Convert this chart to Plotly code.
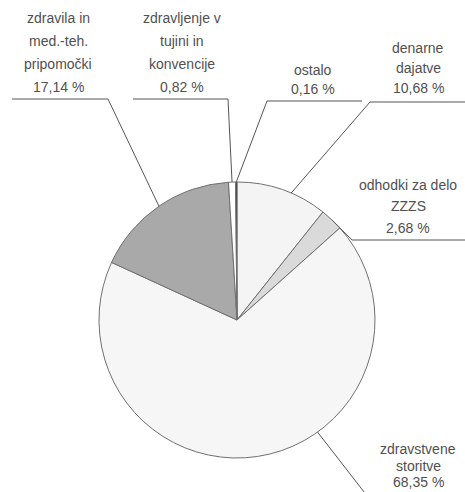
import math
import plotly.graph_objects as go

# ── Data ──────────────────────────────────────────────────────────────────────
categories = [
    "denarne dajatve",
    "odhodki za delo ZZZS",
    "zdravstvene storitve",
    "zdravila in med.-teh. pripomočki",
    "zdravljenje v tujini in konvencije",
    "ostalo",
]
shares = [10.68, 2.68, 68.35, 17.14, 0.82, 0.16]
label_lines = [
    ["denarne", "dajatve"],
    ["odhodki za delo", "ZZZS"],
    ["zdravstvene", "storitve"],
    ["zdravila in", "med.-teh.", "pripomočki"],
    ["zdravljenje v", "tujini in", "konvencije"],
    ["ostalo"],
]
slice_colors = ["#f4f4f4", "#dadada", "#f6f6f6", "#a9a9a9", "#ffffff", "#2a2a2a"]

# ── Layout (pixels) ───────────────────────────────────────────────────────────
W, H = 465, 492
CX, CY, R = 237, 320, 138
FONT = "Liberation Sans, Arial, sans-serif"
TEXT_COLOR = "#505050"
LINE_COLOR = "#555555"

# per label: text centre x, first line y, line step, underline y, underline x-range,
# position of the leader anchor inside the slice (0..1)
label_pos = [
    dict(cx=418, y0=48,  dy=20,   uy=102, ux=(465, 370), frac=0.6),
    dict(cx=408, y0=185, dy=21.5, uy=240, ux=(465, 352), frac=0.5),
    dict(cx=418, y0=449, dy=16.5, uy=None, ux=(368, 497), frac=0.39),
    dict(cx=58,  y0=18,  dy=23,   uy=99,  ux=(12, 108),  frac=0.5),
    dict(cx=182, y0=18,  dy=23,   uy=99,  ux=(133, 228), frac=0.5),
    dict(cx=313, y0=70,  dy=19,   uy=101, ux=(362, 267), frac=0.5),
]


def px(x):
    return x / W


def py(y):
    return 1 - y / H


def pct(v):
    return f"{v:.2f}".replace(".", ",") + " %"


fig = go.Figure(go.Pie(
    labels=categories,
    values=shares,
    sort=False,
    direction="clockwise",
    rotation=0,
    textinfo="none",
    hoverinfo="label+percent",
    marker=dict(colors=slice_colors, line=dict(color="#707070", width=1)),
    domain=dict(x=[px(CX - R), px(CX + R)], y=[py(CY + R), py(CY - R)]),
    showlegend=False,
))

total = sum(shares)
annotations, shapes = [], []
start = 0.0
for cat_lines, val, pos in zip(label_lines, shares, label_pos):
    theta = 2 * math.pi * (start + pos["frac"] * val) / total
    ax, ay = CX + R * math.sin(theta), CY - R * math.cos(theta)
    start += val

    lines = cat_lines + [pct(val)]
    for i, t in enumerate(lines):
        annotations.append(dict(
            text=t, x=px(pos["cx"]), y=py(pos["y0"] + i * pos["dy"]),
            xref="paper", yref="paper", xanchor="center", yanchor="middle",
            showarrow=False, font=dict(family=FONT, size=14, color=TEXT_COLOR),
        ))

    if pos["uy"] is None:
        # leader runs off the bottom edge
        x_end, y_end = pos["ux"]
        path = f"M {px(ax)},{py(ay)} L {px(x_end)},{py(y_end)}"
    else:
        ux0, ux1 = pos["ux"]
        path = (f"M {px(ux0)},{py(pos['uy'])} L {px(ux1)},{py(pos['uy'])} "
                f"L {px(ax)},{py(ay)}")
    shapes.append(dict(type="path", path=path, xref="paper", yref="paper",
                       line=dict(color=LINE_COLOR, width=1)))

fig.update_layout(
    width=W, height=H,
    margin=dict(l=0, r=0, t=0, b=0),
    paper_bgcolor="#ffffff",
    plot_bgcolor="#ffffff",
    annotations=annotations,
    shapes=shapes,
)

fig.write_html(
    "out.html",
    config={"displayModeBar": False},
    post_script="document.body.style.margin='0';document.body.style.overflow='hidden';",
)
